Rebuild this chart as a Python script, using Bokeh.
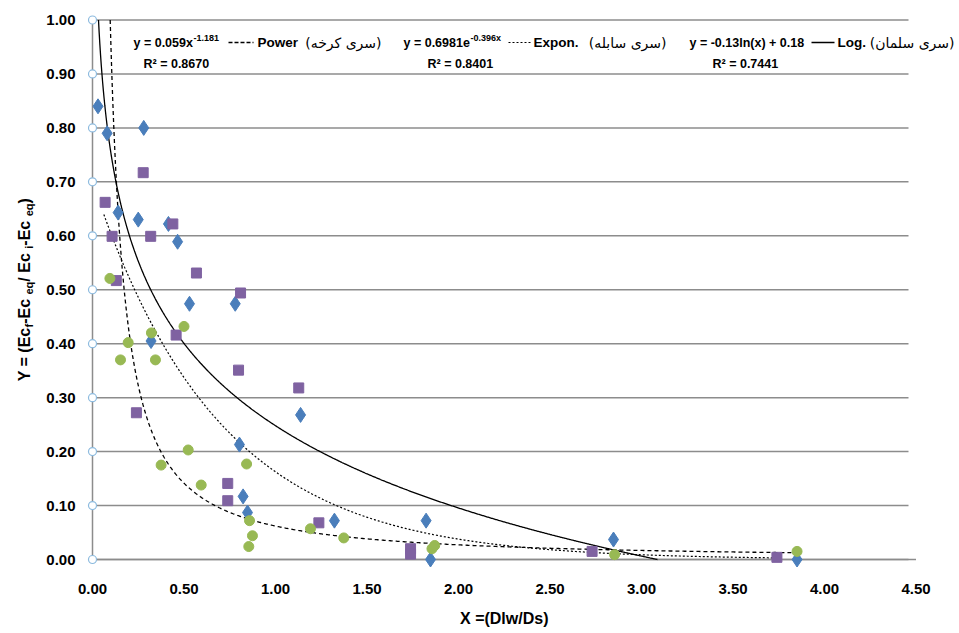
import numpy as np
from bokeh.plotting import figure
from bokeh.models import Label, Range1d
from bokeh.core.properties import value
from bokeh.embed import file_html
from bokeh.resources import INLINE

# ---------------- data ----------------
blue_x = [0.03, 0.08, 0.28, 0.14, 0.25, 0.415, 0.465, 0.53, 0.78, 0.32, 1.137, 0.803, 0.823, 0.847, 1.322, 1.823, 1.847, 2.847, 3.85]
blue_y = [0.84, 0.79, 0.80, 0.643, 0.63, 0.622, 0.589, 0.474, 0.474, 0.405, 0.268, 0.213, 0.117, 0.087, 0.072, 0.072, 0.0, 0.037, 0.0]

purple_x = [0.069, 0.277, 0.107, 0.318, 0.439, 0.13, 0.568, 0.809, 0.457, 0.798, 1.127, 0.24, 0.739, 0.739, 1.237, 1.738, 1.738, 2.73, 3.74]
purple_y = [0.662, 0.717, 0.599, 0.599, 0.622, 0.517, 0.531, 0.494, 0.416, 0.351, 0.318, 0.272, 0.141, 0.109, 0.068, 0.02, 0.01, 0.015, 0.004]

green_x = [0.095, 0.50, 0.322, 0.195, 0.153, 0.344, 0.523, 0.375, 0.842, 0.594, 0.858, 0.874, 0.854, 1.191, 1.373, 1.855, 1.87, 2.853, 3.85]
green_y = [0.521, 0.432, 0.42, 0.402, 0.37, 0.37, 0.203, 0.175, 0.177, 0.138, 0.072, 0.044, 0.024, 0.057, 0.04, 0.02, 0.026, 0.009, 0.015]

# trend lines (coefficients as drawn) and their x extents
power_a, power_b = 0.062, -1.19
power_x_range = [0.03, 3.85]
expon_a, expon_b = 0.70, -1.46
expon_x_range = [0.062, 3.74]
log_a, log_b = -0.22, 0.248
log_x_range = [0.03, 3.85]

x_ticks = [0.0, 0.5, 1.0, 1.5, 2.0, 2.5, 3.0, 3.5, 4.0, 4.5]
x_tick_labels = ["0.00", "0.50", "1.00", "1.50", "2.00", "2.50", "3.00", "3.50", "4.00", "4.50"]
y_ticks = [0.0, 0.1, 0.2, 0.3, 0.4, 0.5, 0.6, 0.7, 0.8, 0.9, 1.0]
y_tick_labels = ["0.00", "0.10", "0.20", "0.30", "0.40", "0.50", "0.60", "0.70", "0.80", "0.90", "1.00"]
x_title = "X =(Dlw/Ds)"

power_eq = ("y = 0.059x", "-1.181", "R² = 0.8670", "Power", "(سری کرخه)")
expon_eq = ("y = 0.6981e", "-0.396x", "R² = 0.8401", "Expon.", "(سری سابله)")
log_eq = ("y = -0.13ln(x) + 0.18", "", "R² = 0.7441", "Log.", "(سری سلمان)")

# ---------------- layout helpers ----------------
W, H = 957, 630
PX0, PX1 = 92.0, 915.5     # px of x=0 and x=4.5
PY0, PY1 = 559.0, 19.5     # px of y=0 and y=1
X_MAX, Y_MIN, Y_MAX = x_ticks[-1], y_ticks[0], y_ticks[-1]


def dx(px):
    return (px - PX0) / (PX1 - PX0) * X_MAX


def dy(py):
    return (PY0 - py) / (PY0 - PY1)


FONT = "Liberation Sans, Arial, sans-serif"
FA_FONT = "DejaVu Sans, sans-serif"
AXIS_GREY = "#8c8c8c"

# The frame covers the whole page; the axes are drawn by hand so that nothing is clipped.
p = figure(width=W, height=H, output_backend="svg", toolbar_location=None,
           x_range=Range1d(dx(0), dx(W)), y_range=Range1d(dy(H), dy(0)),
           x_axis_location=None, y_axis_location=None,
           min_border_left=0, min_border_right=0, min_border_top=0, min_border_bottom=0)
p.outline_line_color = None
p.background_fill_color = "white"
p.border_fill_color = "white"
p.xgrid.visible = False
p.ygrid.visible = False

# horizontal grid lines
grid_end = dx(908)
p.segment(x0=[0.0] * len(y_ticks), y0=y_ticks, x1=[grid_end] * len(y_ticks), y1=y_ticks,
          line_color=AXIS_GREY, line_width=1.5)
# axis lines
p.segment(x0=[0.0, 0.0], y0=[Y_MIN, Y_MIN], x1=[0.0, X_MAX], y1=[Y_MAX, Y_MIN],
          line_color=AXIS_GREY, line_width=1.5)
# excel-style tick circles on the y axis
p.scatter(x=[0.0] * len(y_ticks), y=y_ticks, marker="circle", size=8, fill_color="white",
          line_color="#8dbbdf", line_width=1.2)
# tick labels
p.text(x=[dx(75)] * len(y_ticks), y=y_ticks, text=y_tick_labels, text_align="right",
       text_baseline="middle", text_font=value(FONT), text_font_style="bold",
       text_font_size="15px", text_color="black")
p.text(x=x_ticks, y=[dy(588)] * len(x_ticks), text=x_tick_labels, text_align="center",
       text_baseline="middle", text_font=value(FONT), text_font_style="bold",
       text_font_size="15px", text_color="black")
p.add_layout(Label(x=X_MAX / 2, y=dy(618), text=x_title, text_font=FONT, text_font_style="bold",
                   text_font_size="16px", text_align="center", text_baseline="middle",
                   text_color="black"))

# ---------------- trend lines (kept inside 0..1) ----------------
lo = max(power_x_range[0], (Y_MAX / power_a) ** (1.0 / power_b))
xs = np.linspace(lo, power_x_range[1], 800)
p.line(xs, power_a * xs ** power_b, line_color="black", line_width=1.3, line_dash="4 3")

xs = np.linspace(expon_x_range[0], expon_x_range[1], 800)
p.line(xs, expon_a * np.exp(expon_b * xs), line_color="black", line_width=1.2, line_dash="2 2")

lo = max(log_x_range[0], np.exp((Y_MAX - log_b) / log_a))
hi = min(log_x_range[1], np.exp((Y_MIN - log_b) / log_a))
xs = np.linspace(lo, hi, 800)
p.line(xs, log_a * np.log(xs) + log_b, line_color="black", line_width=1.3)

# ---------------- markers ----------------
p.scatter(blue_x, blue_y, marker="diamond", size=15, fill_color="#4a7ebb", line_color="#4a7ebb")
p.scatter(purple_x, purple_y, marker="square", size=10, fill_color="#7f62a1", line_color="#7f62a1")
p.scatter(green_x, green_y, marker="circle", size=10, fill_color="#98b954", line_color="#98b954")

# ---------------- equation / legend texts ----------------
def lab(px, py, text, size="12.5px", align="left", baseline="middle", font=FONT, style="bold"):
    p.add_layout(Label(x=dx(px), y=dy(py), text=text, text_font=font, text_font_style=style,
                       text_font_size=size, text_align=align, text_baseline=baseline,
                       text_color="black"))


def sample(px0, px1, py, dash, width=1.3):
    p.line([dx(px0), dx(px1)], [dy(py), dy(py)], line_color="black", line_width=width, line_dash=dash)


ROW1, ROW2 = 42, 63
LEG = "13.5px"
FA = "14px"
SUP = "9px"
# power
lab(133, ROW1, power_eq[0])
lab(193, ROW1 - 5, power_eq[1], size=SUP)
lab(143, ROW2, power_eq[2])
sample(228, 253, ROW1, "4 2")
lab(257, ROW1, power_eq[3], size=LEG)
lab(381, ROW1, power_eq[4], size=FA, align="right", font=FA_FONT, style="normal")
# expon
lab(403, ROW1, expon_eq[0])
lab(470, ROW1 - 5, expon_eq[1], size=SUP)
lab(427, ROW2, expon_eq[2])
sample(508, 530, ROW1, "2 2", 1.2)
lab(533, ROW1, expon_eq[3], size=LEG)
lab(666, ROW1, expon_eq[4], size=FA, align="right", font=FA_FONT, style="normal")
# log
lab(689, ROW1, log_eq[0])
lab(712, ROW2, log_eq[2])
sample(811, 834, ROW1, "solid")
lab(837, ROW1, log_eq[3], size=LEG)
lab(954, ROW1, log_eq[4], size=FA, align="right", font=FA_FONT, style="normal")

# ---------------- y axis label (with subscripts) ----------------
def tw(s, size):
    w = {" ": 278, "(": 333, ")": 333, "-": 333, "/": 278, "=": 584, "E": 667, "Y": 667,
         "c": 556, "e": 556, "f": 333, "i": 278, "q": 611}
    return sum(w.get(ch, 556) for ch in s) / 1000.0 * size


pieces = [("Y = (Ec", 0), ("f", 1), (" -Ec", 0), ("eq", 1), (" / Ec", 0), ("i", 1),
          (" -Ec", 0), ("eq", 1), (")", 0)]
MAIN, SUB = 16, 11
total = sum(tw(t, SUB if s else MAIN) for t, s in pieces)
ypos = (PY0 + PY1) / 2 + total / 2
for t, s in pieces:
    size = SUB if s else MAIN
    xb = 24 + (4 if s else 0)
    p.add_layout(Label(x=dx(xb), y=dy(ypos), text=t, text_font=FONT, text_font_style="bold",
                       text_font_size=f"{size}px", text_align="left", text_baseline="alphabetic",
                       angle=np.pi / 2, text_color="black"))
    ypos -= tw(t, size)

open("out.html", "w").write(file_html(p, INLINE))
